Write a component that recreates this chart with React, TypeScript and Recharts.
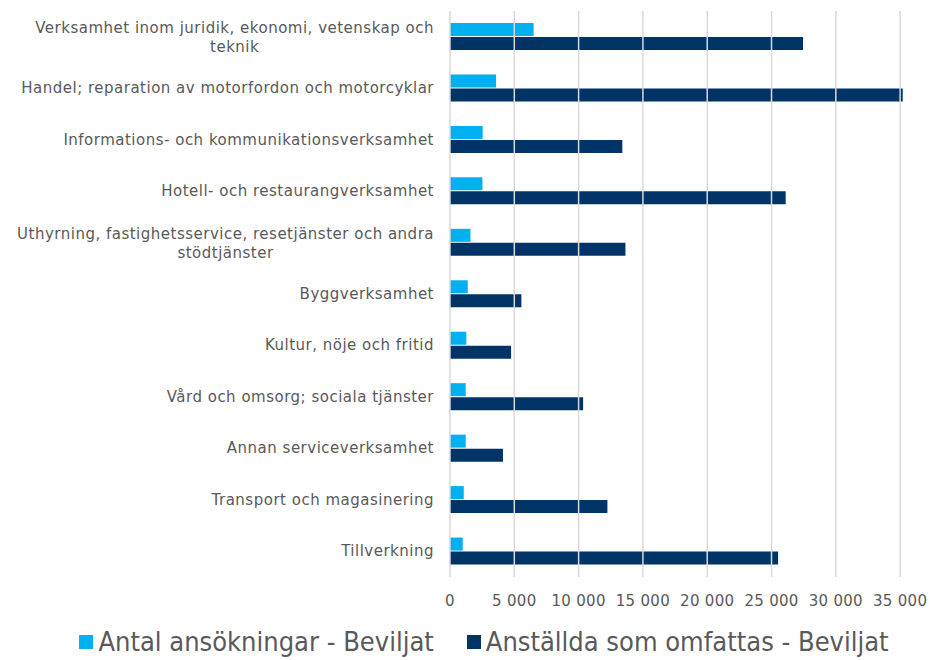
import { BarChart, Bar, XAxis, YAxis, ReferenceLine, Legend } from 'recharts';

const LIGHT = '#00B0F0';
const DARK = '#003366';
const TEXT = '#595959';
const FONT = '"DejaVu Sans", Verdana, sans-serif';

const categories = [
  'Verksamhet inom juridik, ekonomi, vetenskap och\nteknik',
  'Handel; reparation av motorfordon och motorcyklar',
  'Informations- och kommunikationsverksamhet',
  'Hotell- och restaurangverksamhet',
  'Uthyrning, fastighetsservice, resetjänster och andra\nstödtjänster',
  'Byggverksamhet',
  'Kultur, nöje och fritid',
  'Vård och omsorg; sociala tjänster',
  'Annan serviceverksamhet',
  'Transport och magasinering',
  'Tillverkning',
];

const ansokningar = [6500, 3580, 2540, 2520, 1590, 1380, 1270, 1220, 1220, 1070, 990];
const anstallda = [27450, 35200, 13400, 26100, 13640, 5550, 4750, 10350, 4120, 12240, 25510];

const xTicks = [0, 5000, 10000, 15000, 20000, 25000, 30000, 35000];

const seriesNames = ['Antal ansökningar - Beviljat', 'Anställda som omfattas - Beviljat'];

const data = categories.map((c, i) => ({
  name: c,
  a: ansokningar[i],
  b: anstallda[i],
}));

const fmt = (v: number) => v.toLocaleString('en-US').replace(/,/g, ' ');

let measureCtx: CanvasRenderingContext2D | null = null;
function textWidth(s: string) {
  if (!measureCtx) {
    measureCtx = document.createElement('canvas').getContext('2d');
  }
  if (!measureCtx) return s.length * 8.3;
  measureCtx.font = '15px "DejaVu Sans"';
  return measureCtx.measureText(s).width + s.length * 0.5;
}

function CategoryTick(props: any) {
  const { x, y, payload } = props;
  const lines: string[] = String(payload.value).split('\n');
  if (lines.length === 1) {
    return (
      <text x={x} y={y} dy={5} textAnchor="end" fill={TEXT} fontSize={15} letterSpacing={0.5} fontFamily={FONT}>
        {lines[0]}
      </text>
    );
  }
  const mid = x - textWidth(lines[0]) / 2;
  return (
    <text x={mid} y={y} textAnchor="middle" fill={TEXT} fontSize={15} letterSpacing={0.5} fontFamily={FONT}>
      {lines.map((l, i) => (
        <tspan key={i} x={mid} dy={i === 0 ? -4 : 19}>
          {l}
        </tspan>
      ))}
    </text>
  );
}

function LegendContent() {
  const colors = [LIGHT, DARK];
  return (
    <div
      style={{
        display: 'flex',
        justifyContent: 'center',
        alignItems: 'center',
        paddingLeft: 64,
        paddingTop: 7,
        fontFamily: '"DejaVu Sans Condensed", "DejaVu Sans", sans-serif',
        fontSize: 27,
        lineHeight: '30px',
        color: TEXT,
        gap: 33,
      }}
    >
      {seriesNames.map((n, i) => (
        <div key={n} style={{ display: 'flex', alignItems: 'center' }}>
          <span style={{ width: 14, height: 14, background: colors[i], marginRight: 5, display: 'inline-block' }} />
          <span>{n}</span>
        </div>
      ))}
    </div>
  );
}

export default function App() {
  return (
    <div style={{ position: 'absolute', top: 0, left: 0, background: '#fff' }}>
      <BarChart
        width={930}
        height={660}
        data={data}
        layout="vertical"
        margin={{ top: 11, right: 26, bottom: 0, left: 0 }}
        barSize={13}
        barGap={1}
      >
        <XAxis
          type="number"
          domain={[0, 35300]}
          ticks={xTicks}
          tickFormatter={fmt}
          axisLine={false}
          tickLine={false}
          tickMargin={12}
          height={43}
          tick={{ fill: TEXT, fontSize: 15, fontFamily: FONT, letterSpacing: 0.3 }}
        />
        <YAxis
          type="category"
          dataKey="name"
          width={450}
          axisLine={false}
          tickLine={false}
          tickMargin={10}
          tick={<CategoryTick />}
          interval={0}
        />
        {xTicks.map((t) => (
          <ReferenceLine key={t} x={t} stroke="#d9d9d9" strokeWidth={1.5} />
        ))}
        <Legend verticalAlign="bottom" height={40} content={<LegendContent />} />
        <Bar dataKey="a" name={seriesNames[0]} fill={LIGHT} isAnimationActive={false} />
        <Bar dataKey="b" name={seriesNames[1]} fill={DARK} isAnimationActive={false} />
      </BarChart>
    </div>
  );
}
